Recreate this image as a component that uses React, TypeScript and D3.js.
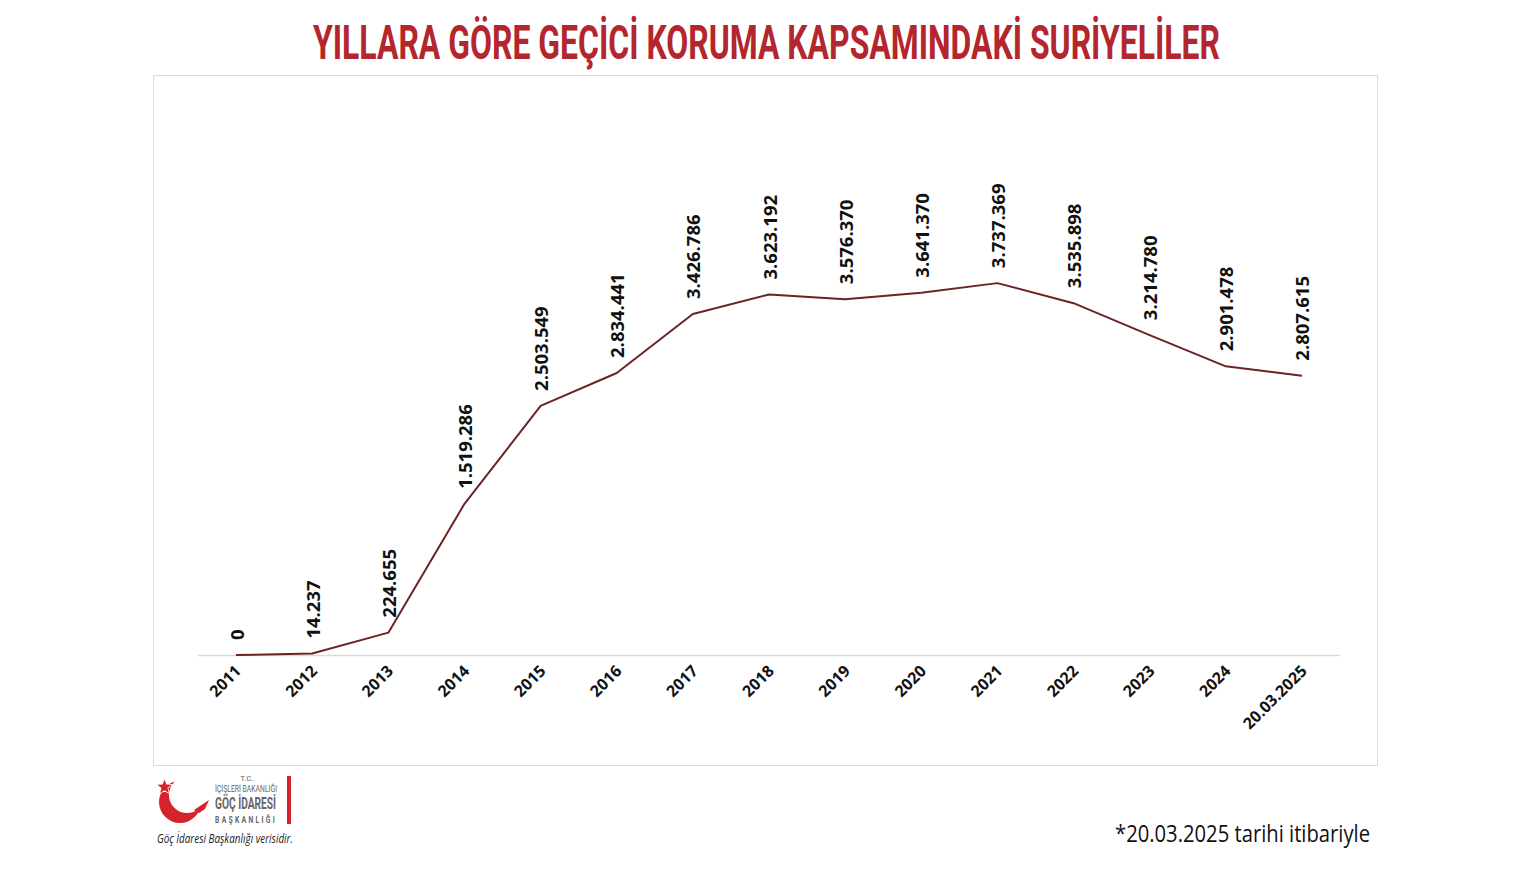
import React from "react";
import * as d3 from "d3";

const categories: string[] = ["2011", "2012", "2013", "2014", "2015", "2016", "2017", "2018", "2019", "2020", "2021", "2022", "2023", "2024", "20.03.2025"];
const values: number[] = [0, 14237, 224655, 1519286, 2503549, 2834441, 3426786, 3623192, 3576370, 3641370, 3737369, 3535898, 3214780, 2901478, 2807615];
const title = "YILLARA GÖRE GEÇİCİ KORUMA KAPSAMINDAKİ SURİYELİLER";
const footnote = "*20.03.2025 tarihi itibariyle";
const caption = "Göç İdaresi Başkanlığı verisidir.";

const W = 1530;
const H = 871;

export default function App() {
  const x = d3.scaleBand<string>().domain(categories).range([198, 1340]);
  const y = d3.scaleLinear().domain([0, 4000000]).range([655, 257]);
  const fmt = d3.formatLocale({ decimal: ",", thousands: ".", grouping: [3], currency: ["", "₺"] }).format(",d");
  const cx = (c: string) => (x(c) as number) + x.bandwidth() / 2;
  const line = d3
    .line<number>()
    .x((_, i) => cx(categories[i]))
    .y((d) => y(d));

  const star = (sx: number, sy: number, r: number) => {
    const pts: string[] = [];
    for (let i = 0; i < 10; i++) {
      const rr = i % 2 === 0 ? r : r * 0.42;
      const a = -Math.PI / 2 + (i * Math.PI) / 5;
      pts.push(`${sx + rr * Math.cos(a)},${sy + rr * Math.sin(a)}`);
    }
    return "M" + pts.join("L") + "Z";
  };

  return (
    <svg width={W} height={H} style={{ position: "absolute", left: 0, top: 0, background: "#fff" }}>
      <rect x={0} y={0} width={W} height={H} fill="#fff" />
      <text
        x={313}
        y={59}
        textLength={907}
        lengthAdjust="spacingAndGlyphs"
        fontFamily="Roboto, 'DejaVu Sans', sans-serif"
        fontWeight={700}
        fontSize={48}
        fill="#b3262d"
      >
        {title}
      </text>
      <rect x={153.5} y={75.5} width={1224} height={690} fill="#fff" stroke="#dcdcdc" strokeWidth={1} />
      <line x1={198} x2={1340} y1={y(0) + 0.5} y2={y(0) + 0.5} stroke="#d9d9d9" strokeWidth={1.5} />
      <path d={line(values) || ""} fill="none" stroke="#6b2324" strokeWidth={2} strokeLinejoin="round" />
      {values.map((v, i) => {
        const px = cx(categories[i]);
        const py = y(v) - 15;
        return (
          <text
            key={"l" + i}
            transform={`translate(${px},${py}) rotate(-90)`}
            dominantBaseline="central"
            textAnchor="start"
            fontFamily="'Open Sans', sans-serif"
            fontWeight={700}
            fontSize={18.5}
            fill="#111"
          >
            {fmt(v)}
          </text>
        );
      })}
      {categories.map((c, i) => (
        <text
          key={"c" + i}
          transform={`translate(${cx(c) + 6},${672}) rotate(-45)`}
          textAnchor="end"
          fontFamily="'Open Sans', sans-serif"
          fontWeight={700}
          fontSize={16}
          fill="#111"
        >
          {c}
        </text>
      ))}
      {/* logo */}
      <g>
        <circle cx={180} cy={802} r={21} fill="#d5222b" />
        <circle cx={187} cy={795} r={18} fill="#fff" />
        <path d="M194,810 L209,800 L205,809 L199,813 Z" fill="#d5222b" />
        <path d={star(164.5, 787, 7.5)} fill="#d5222b" stroke="#fff" strokeWidth={1.5} paintOrder="stroke" />
        <text x={247} y={781} textAnchor="middle" fontFamily="Roboto, sans-serif" fontSize={8} fill="#666">T.C.</text>
        <text x={215} y={792} textLength={62} lengthAdjust="spacingAndGlyphs" fontFamily="Roboto, sans-serif" fontSize={9} fill="#666">İÇİŞLERİ BAKANLIĞI</text>
        <text x={215} y={809} textLength={61} lengthAdjust="spacingAndGlyphs" fontFamily="Roboto, sans-serif" fontWeight={700} fontSize={16} fill="#666">GÖÇ İDARESİ</text>
        <text x={215} y={823} textLength={62} lengthAdjust="spacingAndGlyphs" fontFamily="Roboto, sans-serif" fontWeight={700} fontSize={9} letterSpacing={3} fill="#666">BAŞKANLIĞI</text>
        <rect x={287} y={776} width={4} height={48} fill="#d5222b" />
        <text x={157} y={843} textLength={136} lengthAdjust="spacingAndGlyphs" fontFamily="'Open Sans', sans-serif" fontStyle="italic" fontSize={12} fill="#222">{caption}</text>
      </g>
      <text
        x={1115}
        y={842}
        textLength={255}
        lengthAdjust="spacingAndGlyphs"
        fontFamily="'Open Sans', sans-serif"
        fontSize={23}
        fill="#111"
      >
        {footnote}
      </text>
    </svg>
  );
}
